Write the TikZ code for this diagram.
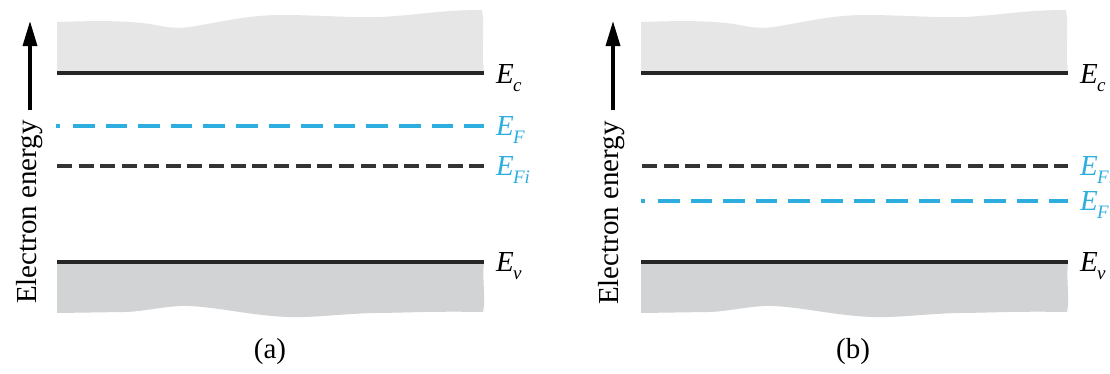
\documentclass[tikz,border=0pt]{standalone}
\usepackage{fontspec}
\setmainfont{Liberation Serif}
\usetikzlibrary{arrows.meta}
\definecolor{topgray}{HTML}{E6E6E6}
\definecolor{botgray}{HTML}{D1D3D4}
\definecolor{fermi}{HTML}{2EAEDF}
\newcommand\Elev[1]{\textit{E}\kern-0.03em\raisebox{-0.3em}{\fontsize{19}{19}\selectfont\textit{#1}}}
\tikzset{
  solidlev/.style={line width=3.2pt, black!85},
  intrlev/.style={line width=3.6pt, black!80, dash pattern=on 15pt off 6.7pt},
  fermilev/.style={line width=3.6pt, fermi, dash pattern=on 21.5pt off 11.1pt},
  lbl/.style={anchor=west, inner sep=0pt, font=\fontsize{29}{29}\selectfont},
  axlbl/.style={rotate=90, inner sep=0pt, font=\fontsize{29}{29}\selectfont},
  captxt/.style={inner sep=0pt, font=\fontsize{29}{29}\selectfont},
  energyarrow/.style={line width=3.4pt, -{Triangle[length=25pt,width=14pt]}}
}
\begin{document}
\begin{tikzpicture}[x=1pt,y=-1pt]
\useasboundingbox (0,0) rectangle (1110,373);
\clip (0,0) rectangle (1110,373);
\fill[white] (0,0) rectangle (1110,373);
\foreach \sx in {0pt,584pt}{
\begin{scope}[xshift=\sx]
  \fill[topgray] (57,73) -- (57,22) .. controls (90,21) and (120,20) .. (150,24)
     .. controls (165,27) and (175,29) .. (190,27)
     .. controls (220,22) and (250,15) .. (280,15)
     .. controls (320,15) and (350,18) .. (380,17)
     .. controls (420,15) and (440,10) .. (482,10)
     .. controls (485,30) and (481,50) .. (484,73) -- cycle;
  \fill[botgray] (57,262) -- (484,262) .. controls (482,280) and (486,300) .. (483,312)
     .. controls (430,311) and (400,313) .. (373,313)
     .. controls (340,314) and (310,318) .. (290,317)
     .. controls (250,316) and (210,305) .. (180,306)
     .. controls (160,307) and (140,312) .. (123,312) -- (57,313) -- cycle;
\end{scope}
}
% ---------- panel (a)
\coordinate (aEcL) at (57,73);  \coordinate (aEcR) at (484,73);
\coordinate (aEvL) at (57,262); \coordinate (aEvR) at (484,262);
\coordinate (aFdL) at (56,126); \coordinate (aFdR) at (60,126);
\coordinate (aFL) at (73,126);  \coordinate (aFR) at (484,126);
\coordinate (aIL) at (57,166);  \coordinate (aIR) at (484,166);
\draw[solidlev] (aEcL) -- (aEcR);
\draw[solidlev] (aEvL) -- (aEvR);
\draw[fermi, line width=3.6pt] (aFdL) -- (aFdR);
\draw[fermilev] (aFL) -- (aFR);
\draw[intrlev] (aIL) -- (aIR);
\node[lbl] (aEc) at (496,78) {\Elev{c}};
\node[lbl, text=fermi] (aEF) at (496,130) {\Elev{F}};
\node[lbl, text=fermi] (aEFi) at (496,170) {\Elev{Fi}};
\node[lbl] (aEv) at (496,266) {\Elev{v}};
\coordinate (aArB) at (30,110); \coordinate (aArT) at (30,21);
\draw[energyarrow] (aArB) -- (aArT);
\node[axlbl] (aAx) at (30,212) {Electron energy};
\node[captxt] (acap) at (270,352) {(a)};
% ---------- panel (b)
\coordinate (bEcL) at (641,73);  \coordinate (bEcR) at (1068,73);
\coordinate (bEvL) at (641,262); \coordinate (bEvR) at (1068,262);
\coordinate (bFdL) at (641,201); \coordinate (bFdR) at (645,201);
\coordinate (bFL) at (658,201);  \coordinate (bFR) at (1068,201);
\coordinate (bIL) at (642,166);  \coordinate (bIR) at (1068,166);
\draw[solidlev] (bEcL) -- (bEcR);
\draw[solidlev] (bEvL) -- (bEvR);
\draw[fermi, line width=3.6pt] (bFdL) -- (bFdR);
\draw[fermilev] (bFL) -- (bFR);
\draw[intrlev] (bIL) -- (bIR);
\node[lbl] (bEc) at (1080,78) {\Elev{c}};
\node[lbl, text=fermi] (bEFi) at (1080,170) {\Elev{Fi}};
\node[lbl, text=fermi] (bEF) at (1080,205) {\Elev{F}};
\node[lbl] (bEv) at (1080,266) {\Elev{v}};
\coordinate (bArB) at (613,110); \coordinate (bArT) at (613,21);
\draw[energyarrow] (bArB) -- (bArT);
\node[axlbl] (bAx) at (612,213) {Electron energy};
\node[captxt] (bcap) at (853,352) {(b)};
\end{tikzpicture}
\end{document}
